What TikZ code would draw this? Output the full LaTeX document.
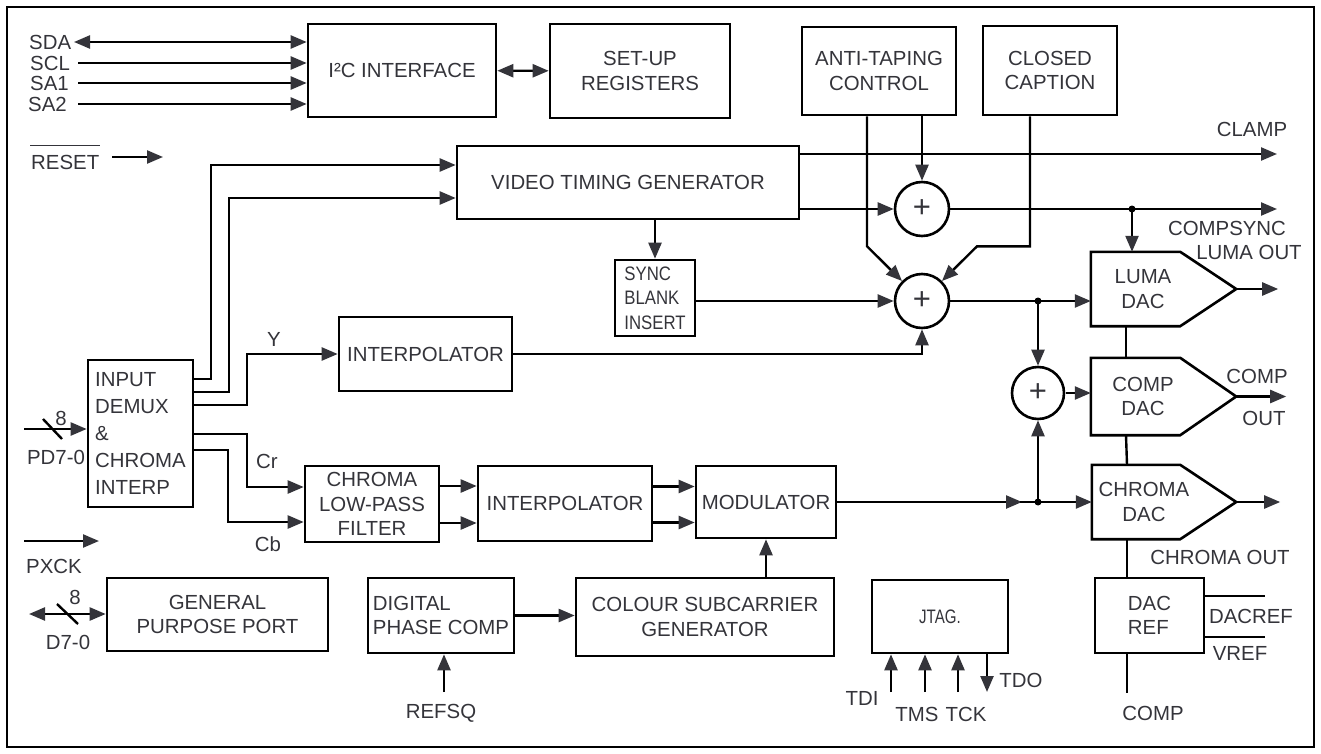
\documentclass[tikz,border=0pt]{standalone}
\usepackage{fontspec}
\setmainfont{Liberation Sans}
\newfontfamily\narrowfont[FakeStretch=0.86]{Liberation Sans}
\usetikzlibrary{arrows.meta,positioning}
\definecolor{ink}{RGB}{52,52,58}
\newcommand\blkfont{\fontsize{20.4}{24.5}\selectfont}
\newcommand\tallfont{\fontsize{20.4}{27}\selectfont}
\newcommand\syncfont{\narrowfont\fontsize{19.5}{24.5}\selectfont}
\newcommand\plusfont{\fontsize{31}{31}\selectfont}
\tikzset{
  blk/.style={draw,line width=2.6pt,inner sep=0pt,align=center,text=ink,font=\blkfont},
  lbl/.style={inner sep=0pt,text=ink,font=\blkfont},
  sum/.style={draw,circle,line width=2.6pt,minimum size=54pt,inner sep=0pt,text=ink,font=\plusfont},
  dac/.style={inner sep=0pt,align=center,text=ink,font=\blkfont,minimum width=102pt},
  dot/.style={circle,fill,inner sep=0pt,minimum size=7pt},
}
\begin{document}
\begin{tikzpicture}[x=1pt,y=-1pt,line width=2.4pt,>={Triangle[length=16pt,width=13pt,color=ink]}]
 \useasboundingbox (0,0) rectangle (1321,754);
 \draw[line width=2.6pt] (7,7) rectangle (1314,747);
 % blocks
 \node[blk,minimum width=188pt,minimum height=93pt] (i2c) at (402,70.5) {I²C INTERFACE};
 \node[blk,minimum width=180pt,minimum height=94pt] (setup) at (640,71) {SET-UP\\REGISTERS};
 \node[blk,minimum width=154pt,minimum height=88pt] (antitape) at (879,71) {ANTI-TAPING\\CONTROL};
 \node[blk,minimum width=134pt,minimum height=89pt] (cc) at (1050,70.5) {CLOSED\\CAPTION};
 \node[blk,minimum width=342pt,minimum height=73pt] (vtg) at (628,182.5) {VIDEO TIMING GENERATOR};
 \node[blk,align=left,font=\syncfont,minimum width=80pt,minimum height=76pt] (sync) at (655,298) {SYNC\\BLANK\\INSERT};
 \node[blk,minimum width=173pt,minimum height=74pt] (interpy) at (425.5,354) {INTERPOLATOR};
 \node[blk,align=left,font=\tallfont,minimum width=105pt,minimum height=147pt] (demux) at (140.5,433.5) {INPUT\\DEMUX\\\&\\CHROMA\\INTERP};
 \node[blk,minimum width=134pt,minimum height=76pt] (lpf) at (372,504) {CHROMA\\LOW-PASS\\FILTER};
 \node[blk,minimum width=174pt,minimum height=75pt] (interpc) at (565,503.5) {INTERPOLATOR};
 \node[blk,minimum width=140pt,minimum height=72pt] (mod) at (766,502) {MODULATOR};
 \node[blk,align=left,minimum width=146pt,minimum height=75pt] (dpc) at (441,615.5) {DIGITAL\\PHASE COMP};
 \node[blk,minimum width=258pt,minimum height=78pt] (csg) at (705,617) {COLOUR SUBCARRIER\\GENERATOR};
 \node[blk,minimum width=221pt,minimum height=73pt] (gpp) at (217.5,614.5) {GENERAL\\PURPOSE PORT};
 \node[blk,font=\syncfont,minimum width=136pt,minimum height=73pt] (jtag) at (940,616.5) {\scalebox{0.9}[1]{JTAG.}};
 \node[blk,align=left,minimum width=109pt,minimum height=75pt] (dacref) at (1149.5,615.5) {DAC\\REF};
 % summing points
 \node[sum] (sum1) at (922,209) {+};
 \node[sum] (sum2) at (922,301) {+};
 \node[sum,minimum size=52pt] (sum3) at (1038,393) {+};
 % DACs
 \node[dac,minimum height=72pt] (lumadac) at (1143,289) {LUMA\\DAC};
 \node[dac,minimum height=75pt] (compdac) at (1143,396.5) {COMP\\DAC};
 \node[dac,minimum height=72pt] (chromadac) at (1144,502) {CHROMA\\DAC};
 \coordinate (lumatip) at ([xshift=41pt]lumadac.east);
 \coordinate (comptip) at ([xshift=41pt]compdac.east);
 \coordinate (chromatip) at ([xshift=40pt]chromadac.east);
 \draw[line width=2.6pt] (lumadac.north west) -- ([xshift=-15pt]lumadac.north east) -- (lumatip)
   -- ([xshift=-15pt]lumadac.south east) -- (lumadac.south west) -- cycle;
 \draw[line width=2.6pt] (compdac.north west) -- ([xshift=-15pt]compdac.north east) -- (comptip)
   -- ([xshift=-15pt]compdac.south east) -- (compdac.south west) -- cycle;
 \draw[line width=2.6pt] (chromadac.north west) -- ([xshift=-16pt]chromadac.north east) -- (chromatip)
   -- ([xshift=-16pt]chromadac.south east) -- (chromadac.south west) -- cycle;
 % serial interface
 \coordinate (sda) at (74,42);
 \coordinate (scl) at (78,63);
 \coordinate (sa1) at (78,83);
 \coordinate (sa2) at (78,104);
 \draw[<->] (sda) -- (sda -| i2c.west);
 \draw[->] (scl) -- (scl -| i2c.west);
 \draw[->] (sa1) -- (sa1 -| i2c.west);
 \draw[->] (sa2) -- (sa2 -| i2c.west);
 \draw[<->] (i2c) -- (setup);
 \coordinate (rst) at (112,157);
 \draw[->] (rst) -- ++(51,0);
 % demux outputs
 \draw[->] ([yshift=-20pt]demux.north east) -| (211,165) -- (vtg.west |- 0,165);
 \draw[->] ([yshift=-33pt]demux.north east) -| (229,198) -- (vtg.west |- 0,198);
 \draw[->] ([yshift=-46pt]demux.north east) -| (247,354) -- (interpy.west);
 \draw[->] ([yshift=-75pt]demux.north east) -| (247,487) -- (lpf.west |- 0,487);
 \draw[->] ([yshift=-91pt]demux.north east) -| (228,522) -- (lpf.west |- 0,522);
 \coordinate (pd) at (24,429);
 \draw[->] (pd) -- (pd -| demux.west);
 \draw (43,419) -- (62,439);
 \coordinate (pxck) at (24,541);
 \draw[->] (pxck) -- ++(75,0);
 \coordinate (d70) at (29,614);
 \draw[<->] (d70) -- (d70 -| gpp.west);
 \draw (57,604) -- (78,624);
 % chroma path
 \draw[->] ([yshift=18pt]lpf.east) -- ([yshift=18pt]lpf.east -| interpc.west);
 \draw[->] ([yshift=-19pt]lpf.east) -- ([yshift=-19pt]lpf.east -| interpc.west);
 \draw[->] ([yshift=17pt]interpc.east) -- ([yshift=17pt]interpc.east -| mod.west);
 \draw[->] ([yshift=-19pt]interpc.east) -- ([yshift=-19pt]interpc.east -| mod.west);
 \draw[->] (dpc.east) -- (dpc.east -| csg.west);
 \draw[->] (mod.south |- csg.north) -- (mod.south);
 \coordinate (refsq) at (444,692);
 \draw[->] (refsq) -- (refsq |- dpc.south);
 % timing and luma path
 \coordinate (clamp) at (1277,154);
 \draw[->] (vtg.east |- clamp) -- (clamp);
 \draw[->] (vtg.east |- sum1) -- (sum1.west);
 \draw[->] (sum1 |- antitape.south) -- (sum1.north);
 \draw[->] ([xshift=-12pt]antitape.south) -- ++(0,130) -- (sum2.135);
 \draw[->] ([xshift=-20pt]cc.south) -- ++(0,130) -- ++(-53,0) -- (sum2.45);
 \coordinate (compsync) at (1277,209);
 \draw[->] (sum1.east) -- (compsync);
 \node[dot] (j1) at (1132,209) {};
 \draw[->] (j1.center) -- (j1 |- lumadac.north);
 \draw[->] (sync.north |- vtg.south) -- (sync.north);
 \draw[->] (sync.east |- sum2) -- (sum2.west);
 \draw[->] (interpy.east) -| (sum2.south);
 \draw[->] (sum2.east) -- (sum2.east -| lumadac.west);
 \node[dot] (j2) at (sum3 |- sum2) {};
 \draw[->] (j2.center) -- (sum3.north);
 \draw[->] ([xshift=1pt]sum3.east) -- (sum3.east -| compdac.west);
 \node[dot] (j3) at (sum3 |- mod.east) {};
 \draw[->] (mod.east) -- ([xshift=-16pt]j3.center);
 \draw[->] ([xshift=-18pt]j3.center) -- (j3 -| chromadac.west);
 \draw[->] (j3.center) -- (sum3.south);
 % dac outputs and reference
 \draw[->] (lumatip) -- ++(42,0);
 \draw[->] (comptip) -- ++(50,0);
 \draw[->] (chromatip) -- ++(44,0);
 \draw ([xshift=-17pt]lumadac.south) -- ([xshift=-17pt]compdac.north);
 \draw ([xshift=-17pt]compdac.south) -- ([xshift=-17pt]chromadac.north);
 \draw ([xshift=-17pt]chromadac.south) -- ([xshift=-17pt]chromadac.south |- dacref.north);
 \draw ([xshift=-22.5pt]dacref.south) -- ++(0,39);
 \draw ([yshift=19.5pt]dacref.east) -- ++(60,0);
 \draw ([yshift=-21.5pt]dacref.east) -- ++(60,0);
 % jtag port
 \coordinate (tdi) at (891,692);
 \coordinate (tms) at (925,692);
 \coordinate (tck) at (958,692);
 \coordinate (tdo) at (987,692);
 \draw[->] (tdi) -- (tdi |- jtag.south);
 \draw[->] (tms) -- (tms |- jtag.south);
 \draw[->] (tck) -- (tck |- jtag.south);
 \draw[->] (tdo |- jtag.south) -- (tdo);
 % labels
 \node[lbl,anchor=west] (lsda) at (28,42) {SDA};
 \node[lbl,anchor=west] (lscl) at (29,63) {SCL};
 \node[lbl,anchor=west] (lsa1) at (29,83) {SA1};
 \node[lbl,anchor=west] (lsa2) at (27,104) {SA2};
 \node[lbl,anchor=west] (lreset) at (30,162) {RESET};
 \draw[line width=1.4pt,ink] ([yshift=8pt]lreset.north west) -- ([yshift=8pt]lreset.north east);
 \node[lbl] (lclamp) at (1252,129) {CLAMP};
 \node[lbl] (lcsync) at (1227,228) {COMPSYNC};
 \node[lbl] (llout) at (1249,252) {LUMA OUT};
 \node[lbl] (lcomp) at (1257,376) {COMP};
 \node[lbl] (lout) at (1264,418) {OUT};
 \node[lbl] (lcout) at (1220,557) {CHROMA OUT};
 \node[lbl] (ldacref) at (1251,616) {DACREF};
 \node[lbl] (lvref) at (1240,653) {VREF};
 \node[lbl] (lcompref) at (1153,713) {COMP};
 \node[lbl] (ltdi) at (862,698) {TDI};
 \node[lbl] (ltms) at (917,714) {TMS};
 \node[lbl] (ltck) at (966,714) {TCK};
 \node[lbl] (ltdo) at (1021,680) {TDO};
 \node[lbl] (lrefsq) at (441,713) {REFSQ};
 \node[lbl] (ly) at (274,339) {Y};
 \node[lbl] (lcr) at (267,461) {Cr};
 \node[lbl] (lcb) at (268,544) {Cb};
 \node[lbl] (lpd) at (56,457) {PD7-0};
 \node[lbl] (lpdw) at (61,418) {8};
 \node[lbl] (lpxck) at (54,566) {PXCK};
 \node[lbl] (ld) at (68,642) {D7-0};
 \node[lbl] (ldw) at (75,597) {8};
\end{tikzpicture}
\end{document}
